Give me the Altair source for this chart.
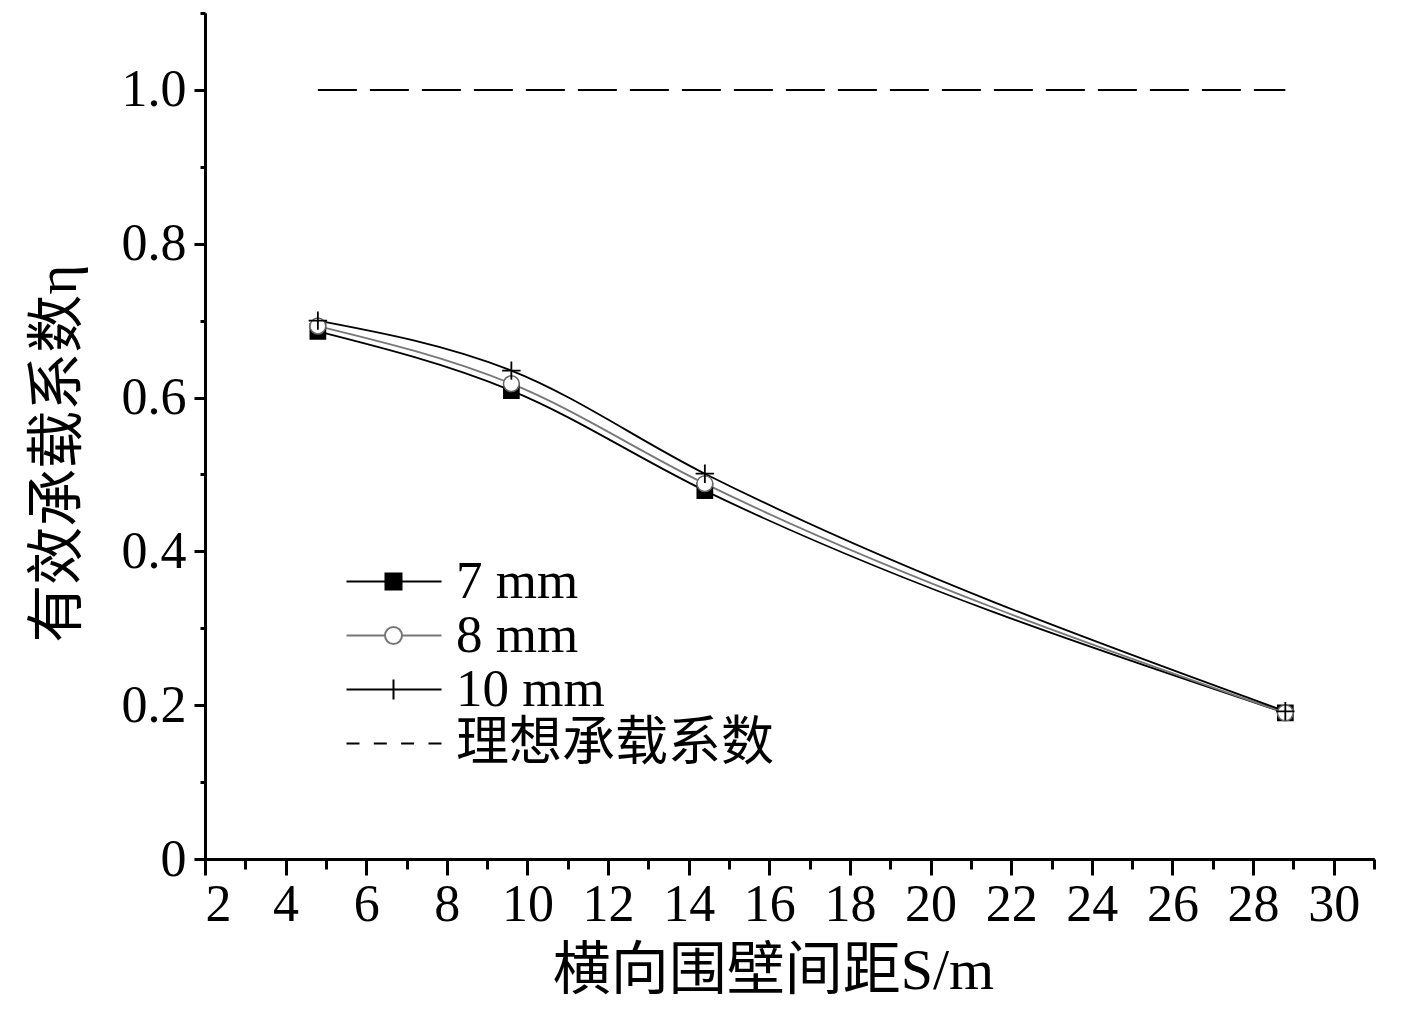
import altair as alt
import pandas as pd

# ---- data ----
S = [4.8, 9.6, 14.4, 28.8]
eta_7 = [0.686, 0.609, 0.479, 0.190]
eta_8 = [0.693, 0.618, 0.488, 0.190]
eta_10 = [0.700, 0.635, 0.501, 0.192]
ideal_x = [4.8, 28.8]
ideal_eta = 1.0
series_names = ["7 mm", "8 mm", "10 mm", "理想承载系数"]

x_major = list(range(2, 31, 2))
x_minor = list(range(3, 32, 2))
y_major = [0, 0.2, 0.4, 0.6, 0.8, 1.0]
y_minor = [0.1, 0.3, 0.5, 0.7, 0.9, 1.1]

rows = []
for name, vals in zip(series_names[:3], [eta_7, eta_8, eta_10]):
    for s, v in zip(S, vals):
        rows.append({"series": name, "S": s, "eta": v})
df = pd.DataFrame(rows)
ideal_df = pd.DataFrame({"x1": [ideal_x[0]], "x2": [ideal_x[1]], "eta": [ideal_eta]})

LATIN = "Liberation Serif, Noto Sans CJK SC"
xscale = alt.Scale(domain=[2, 31], nice=False, zero=False)
yscale = alt.Scale(domain=[0, 1.1], nice=False, zero=False)

base = alt.Chart(df)

lines = base.mark_line(interpolate="monotone", strokeWidth=1.8).encode(
    x=alt.X("S:Q", scale=xscale, axis=alt.Axis(
        values=x_major, title="横向围壁间距S/m", tickSize=16, labelPadding=4,
        titlePadding=12, titleX=568, grid=False, orient="bottom")),
    y=alt.Y("eta:Q", scale=yscale, axis=alt.Axis(
        values=y_major, title="有效承载系数η", tickSize=11, labelPadding=8,
        titlePadding=34, titleY=440, grid=False, orient="left",
        labelExpr="datum.value == 0 ? '0' : format(datum.value, '.1f')")),
    color=alt.Color("series:N", scale=alt.Scale(domain=series_names[:3],
                    range=["#000000", "#777777", "#000000"]), legend=None),
    detail="series:N",
)

ideal = alt.Chart(ideal_df).mark_rule(strokeWidth=2, strokeDash=[39, 13], color="black").encode(
    x=alt.X("x1:Q", scale=xscale, axis=alt.Axis(
        values=x_minor, labels=False, title=None, tickSize=10, grid=False, orient="bottom")),
    x2="x2:Q",
    y=alt.Y("eta:Q", scale=yscale, axis=alt.Axis(
        values=y_minor, labels=False, title=None, tickSize=5, grid=False, orient="left")),
)

def markers(name, **mk):
    return base.transform_filter(alt.datum.series == name).mark_point(opacity=1, **mk).encode(
        x=alt.X("S:Q", scale=xscale, axis=None),
        y=alt.Y("eta:Q", scale=yscale, axis=None),
    )

m7 = markers("7 mm", shape="square", size=280, filled=True, color="black", strokeWidth=0)
m8 = markers("8 mm", shape="circle", size=250, fill="white", stroke="#666666", strokeWidth=1.5)
m10 = markers("10 mm", shape="M-1,0H1M0,-1V1", size=340, fill="transparent", stroke="black", strokeWidth=1.8)

legend_paths = [
    "M-1,0H8.5M2.9,-0.8H4.5V0.8H2.9Z",
    "M-1,0H2.85M4.55,0H8.5M2.85,0A0.85,0.85 0 1,0 4.55,0A0.85,0.85 0 1,0 2.85,0Z",
    "M-1,0H8.5M3.7,-1V1",
    "M-1,0H0.3M1.73,0H3.03M4.46,0H5.76M7.2,0H8.5",
]

legend_layer = base.transform_filter("false").mark_point(opacity=1, strokeWidth=2).encode(
    x=alt.X("S:Q", scale=xscale, axis=None),
    y=alt.Y("eta:Q", scale=yscale, axis=None),
    shape=alt.Shape("series:N", scale=alt.Scale(domain=series_names, range=legend_paths),
                    legend=alt.Legend(title=None, orient="none", legendX=125, legendY=542,
                                      symbolSize=400, symbolStrokeWidth=2, labelOffset=73,
                                      labelFont=LATIN, labelFontSize=53, labelColor="black",
                                      rowPadding=0, padding=0, labelLimit=600)),
    fill=alt.Fill("series:N", scale=alt.Scale(domain=series_names,
                  range=["#000000", "#ffffff", "transparent", "transparent"])),
    stroke=alt.Stroke("series:N", scale=alt.Scale(domain=series_names,
                      range=["#000000", "#777777", "#000000", "#000000"])),
)

chart = alt.layer(lines, ideal, m7, m8, m10, legend_layer).resolve_axis(
    x="independent", y="independent"
).properties(
    width=1169, height=846,
    autosize=alt.AutoSizeParams(type="none"),
    padding={"left": 197, "top": 5, "right": 30, "bottom": 150},
).configure_view(stroke=None).configure_axis(
    domainColor="black", domainWidth=3, tickColor="black", tickWidth=3,
    labelFont="Liberation Serif", labelFontSize=52, labelColor="black",
    titleFont=LATIN, titleFontSize=58, titleFontWeight="normal", titleColor="black",
)

chart.save("out.html", embed_options={"renderer": "svg", "actions": False})
